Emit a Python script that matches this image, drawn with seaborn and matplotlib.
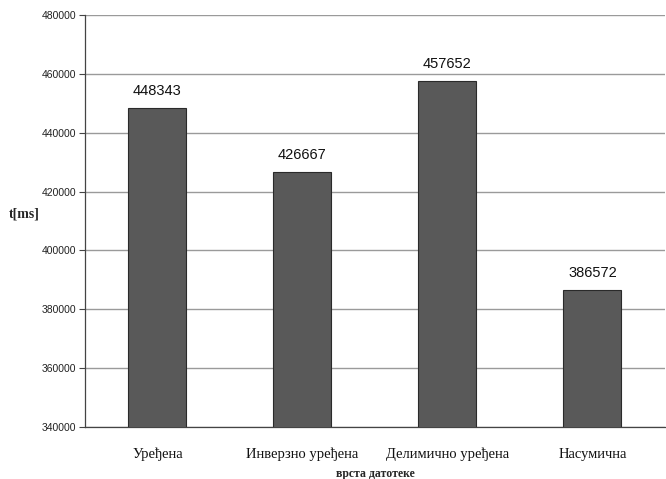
import matplotlib
matplotlib.use("Agg")
import matplotlib.pyplot as plt
import seaborn as sns
import pandas as pd
import numpy as np

categories = ["Уређена", "Инверзно уређена", "Делимично уређена", "Насумична"]
times_ms = [448343, 426667, 457652, 386572]
y_ticks = [340000, 360000, 380000, 400000, 420000, 440000, 460000, 480000]

df = pd.DataFrame({"vrsta": categories, "t": times_ms})

sns.set_theme(style="white")
plt.rcParams["font.family"] = ["Liberation Sans", "DejaVu Sans"]

fig = plt.figure(figsize=(6.66, 4.79), dpi=100)
ax = fig.add_axes([0.1276, 0.1086, 0.8709, 0.8601])

sns.barplot(data=df, x="vrsta", y="t", color="#595959", width=0.4,
            edgecolor="#2a2a2a", linewidth=0.8, saturation=1, ax=ax, zorder=3)

ax.set_ylim(340000, 480000)
ax.set_xlim(-0.5, len(categories) - 0.5)
ax.set_yticks(y_ticks)
ax.set_yticklabels([str(v) for v in y_ticks], fontsize=7.5, color="#222222")
ax.yaxis.grid(True, color="#9a9a9a", linewidth=1.0, zorder=0)
ax.set_axisbelow(True)

# category labels centred under bars, tick marks on category boundaries
ax.set_xticks(range(len(categories)))
ax.set_xticklabels(categories, fontfamily="Liberation Serif", fontsize=10.5, color="#111111")
ax.set_xticks(np.arange(-0.5, len(categories), 1.0), minor=True)
ax.tick_params(axis="x", which="major", length=0, pad=15)
ax.tick_params(axis="x", which="minor", length=4, width=0.8, color="#444444", direction="out")
ax.tick_params(axis="y", which="major", length=4, width=0.8, color="#444444", direction="out", left=True, pad=2)

for side in ["top", "right"]:
    ax.spines[side].set_visible(False)
for side in ["left", "bottom"]:
    ax.spines[side].set_color("#444444")
    ax.spines[side].set_linewidth(0.9)

for c in ax.containers:
    ax.bar_label(c, labels=[str(v) for v in times_ms], padding=7, fontsize=10.5, color="#111111")

ax.set_xlabel("врста датотеке", fontfamily="Liberation Serif", fontweight="bold",
              fontsize=8.5, labelpad=5)
ax.set_ylabel("t[ms]", fontfamily="Liberation Serif", fontweight="bold",
              fontsize=10, rotation=0, labelpad=0)
ax.yaxis.set_label_coords(-0.105, 0.5)

fig.savefig("out.png", dpi=100)
